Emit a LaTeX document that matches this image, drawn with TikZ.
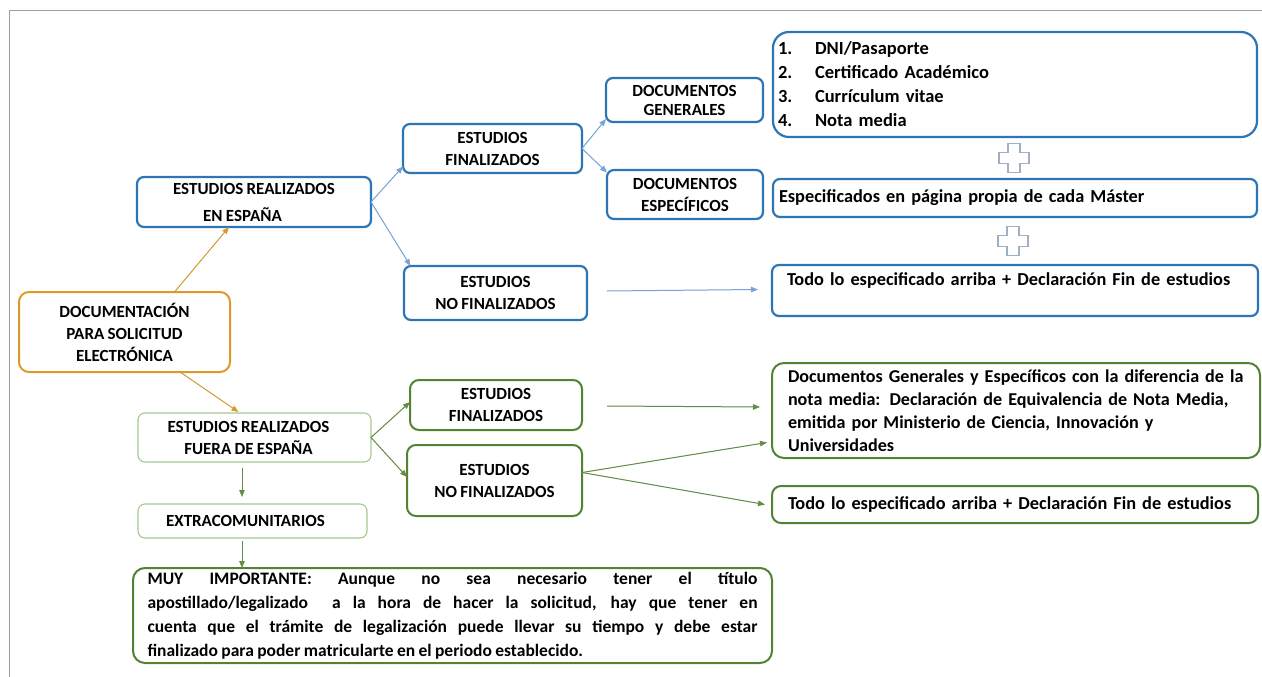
\documentclass[tikz,border=0pt]{standalone}
\usepackage{fontspec}
\setmainfont{Carlito}[WordSpace=0.85]
\usetikzlibrary{arrows.meta,calc}
\definecolor{bluebd}{RGB}{46,117,182}
\definecolor{bluearr}{RGB}{120,163,214}
\definecolor{orangebd}{RGB}{219,154,42}
\definecolor{orangearr}{RGB}{212,155,50}
\definecolor{greenbd}{RGB}{84,130,53}
\definecolor{lgreenbd}{RGB}{165,200,145}
\definecolor{greenarr}{RGB}{100,140,70}
\definecolor{framec}{RGB}{160,160,140}
\definecolor{plusc}{RGB}{160,176,196}
\begin{document}
\begin{tikzpicture}[x=1pt,y=-1pt,
  base/.style={fill=white, align=center, inner sep=0pt, outer sep=0pt,
    font=\fontsize{17}{22}\selectfont\bfseries},
  bbox/.style={base, draw=bluebd, line width=2.2pt, rounded corners=7pt},
  obox/.style={base, draw=orangebd, line width=2pt, rounded corners=10pt},
  gbox/.style={base, draw=greenbd, line width=2pt, rounded corners=9pt},
  lgbox/.style={base, draw=lgreenbd, line width=1.1pt, rounded corners=7pt},
  bigtext/.style={font=\fontsize{18.3}{23}\selectfont\bfseries, align=left},
  arr/.style={-{Triangle[length=7pt,width=5.5pt]}, line width=1pt},
  barr/.style={arr, draw=bluearr, fill=bluearr},
  oarr/.style={arr, draw=orangearr, fill=orangearr},
  garr/.style={arr, draw=greenarr, fill=greenarr},
  plusshape/.style={draw=plusc, line width=1.2pt, fill=white}
]
\useasboundingbox (0,0) rectangle (1262,677);
\draw[framec, line width=1pt] (9,677) -- (9,11) -- (1262,11);

% left column
\node[bbox, minimum width=234pt, minimum height=50pt] (espana) at (254,202)
  {ESTUDIOS REALIZADOS\\[5pt]EN ESPAÑA\hspace*{23pt}};
\node[obox, minimum width=211pt, minimum height=80pt] (doc) at (124.5,332)
  {DOCUMENTACIÓN\\PARA SOLICITUD\\ELECTRÓNICA};
\node[lgbox, minimum width=233pt, minimum height=49pt] (fuera) at (254.5,437.5)
  {ESTUDIOS REALIZADOS\hspace*{12pt}\\FUERA DE ESPAÑA\hspace*{12pt}};
\node[lgbox, minimum width=229pt, minimum height=34pt] (extra) at (252.5,521)
  {EXTRACOMUNITARIOS\hspace*{14pt}};
\node[gbox, rounded corners=12pt, minimum width=639pt, minimum height=95pt,
  align=justify, text width=610pt, font=\fontsize{17.5}{24}\selectfont\bfseries]
  (muy) at (452.5,615.5)
  {MUY IMPORTANTE: Aunque no sea necesario tener el título\linebreak
   apostillado/legalizado\ \ a la hora de hacer la solicitud, hay que tener en\linebreak
   cuenta que el trámite de legalización puede llevar su tiempo y debe estar\linebreak
   finalizado para poder matricularte en el periodo establecido.};

% blue branch
\node[bbox, minimum width=179pt, minimum height=49pt] (bfin) at (492.5,148.5)
  {ESTUDIOS\\FINALIZADOS};
\node[bbox, minimum width=183pt, minimum height=54pt] (bnofin) at (495.5,293)
  {ESTUDIOS\\NO FINALIZADOS};
\node[bbox, minimum width=157pt, minimum height=44pt] (gen) at (684.5,100)
  {DOCUMENTOS\\[-3pt]GENERALES};
\node[bbox, minimum width=156pt, minimum height=49pt] (esp) at (685,194.5)
  {DOCUMENTOS\\ESPECÍFICOS};
\node[bbox, bigtext, rounded corners=16pt, minimum width=484pt, minimum height=105pt,
  text width=474pt, font=\fontsize{18.5}{24}\selectfont\bfseries] (list) at (1015,84.5)
  {\makebox[37pt][l]{1.}DNI/Pasaporte\\
   \makebox[37pt][l]{2.}Certificado Académico\\
   \makebox[37pt][l]{3.}Currículum vitae\\
   \makebox[37pt][l]{4.}Nota media};
\node[bbox, bigtext, minimum width=484pt, minimum height=38pt, text width=472pt]
  (espc) at (1015,198) {Especificados en página propia de cada Máster};
\node[bbox, bigtext, minimum width=486pt, minimum height=51pt, text width=456pt]
  (todo1) at (1015,290.5) {Todo lo especificado arriba + Declaración Fin de estudios\\\mbox{}};

% plus signs
\foreach \cx/\cy in {1014/158, 1013/241}{
  \draw[plusshape] (\cx-6,\cy-14.5) -- (\cx+6,\cy-14.5) -- (\cx+6,\cy-5.5)
    -- (\cx+15,\cy-5.5) -- (\cx+15,\cy+5.5) -- (\cx+6,\cy+5.5) -- (\cx+6,\cy+14.5)
    -- (\cx-6,\cy+14.5) -- (\cx-6,\cy+5.5) -- (\cx-15,\cy+5.5) -- (\cx-15,\cy-5.5)
    -- (\cx-6,\cy-5.5) -- cycle;
}

% green branch
\node[gbox, minimum width=172pt, minimum height=50pt] (gfin) at (496,405)
  {ESTUDIOS\\FINALIZADOS};
\node[gbox, minimum width=175pt, minimum height=71pt] (gnofin) at (494.5,480.5)
  {ESTUDIOS\\NO FINALIZADOS};
\node[gbox, bigtext, rounded corners=12pt, minimum width=488pt, minimum height=95pt,
  text width=456pt, font=\fontsize{18.1}{23}\selectfont\bfseries] (gdocs) at (1016,410.5)
  {Documentos Generales y Específicos con la diferencia de la\\
   nota media: Declaración de Equivalencia de Nota Media,\\
   emitida por Ministerio de Ciencia, Innovación y\\
   Universidades};
\node[gbox, bigtext, minimum width=486pt, minimum height=37pt, text width=454pt]
  (gtodo) at (1015,504.5) {Todo lo especificado arriba + Declaración Fin de estudios};

% connectors
\draw[oarr] ([xshift=50pt]doc.north) -- ([xshift=-25pt]espana.south);
\draw[oarr] ([xshift=55.5pt]doc.south) -- ([xshift=-16pt,yshift=1pt]fuera.north);
\draw[barr] (espana.east) -- ([yshift=-18pt]bfin.west);
\draw[barr] (espana.east) -- ([xshift=-85pt]bnofin.north);
\draw[barr] (bfin.east) -- ([yshift=-19pt]gen.west);
\draw[barr] (bfin.east) -- ([yshift=22pt]esp.west);
\coordinate (bstart) at ([xshift=20pt,yshift=2pt]bnofin.east);
\draw[barr] (bstart) -- ([xshift=-14pt,yshift=1pt]todo1.west);
\draw[garr] (fuera.east) -- ([yshift=3pt]gfin.west);
\draw[garr] (fuera.east) -- ([yshift=3.5pt]gnofin.west);
\coordinate (gstart) at ([xshift=25pt,yshift=-1pt]gfin.east);
\draw[garr] (gstart) -- ([xshift=-12pt,yshift=3.5pt]gdocs.west);
\draw[garr] ([yshift=8pt]gnofin.east) -- ([xshift=-5pt,yshift=-32pt]gdocs.west);
\draw[garr] ([yshift=8pt]gnofin.east) -- ([xshift=-7pt]gtodo.west);
\draw[garr] ([xshift=-12.5pt,yshift=-6pt]fuera.south) -- ([xshift=-10.5pt,yshift=7pt]extra.north);
\draw[garr] ([xshift=-10.5pt,yshift=-3pt]extra.south) -- ([xshift=-210.5pt]muy.north);
\end{tikzpicture}
\end{document}
